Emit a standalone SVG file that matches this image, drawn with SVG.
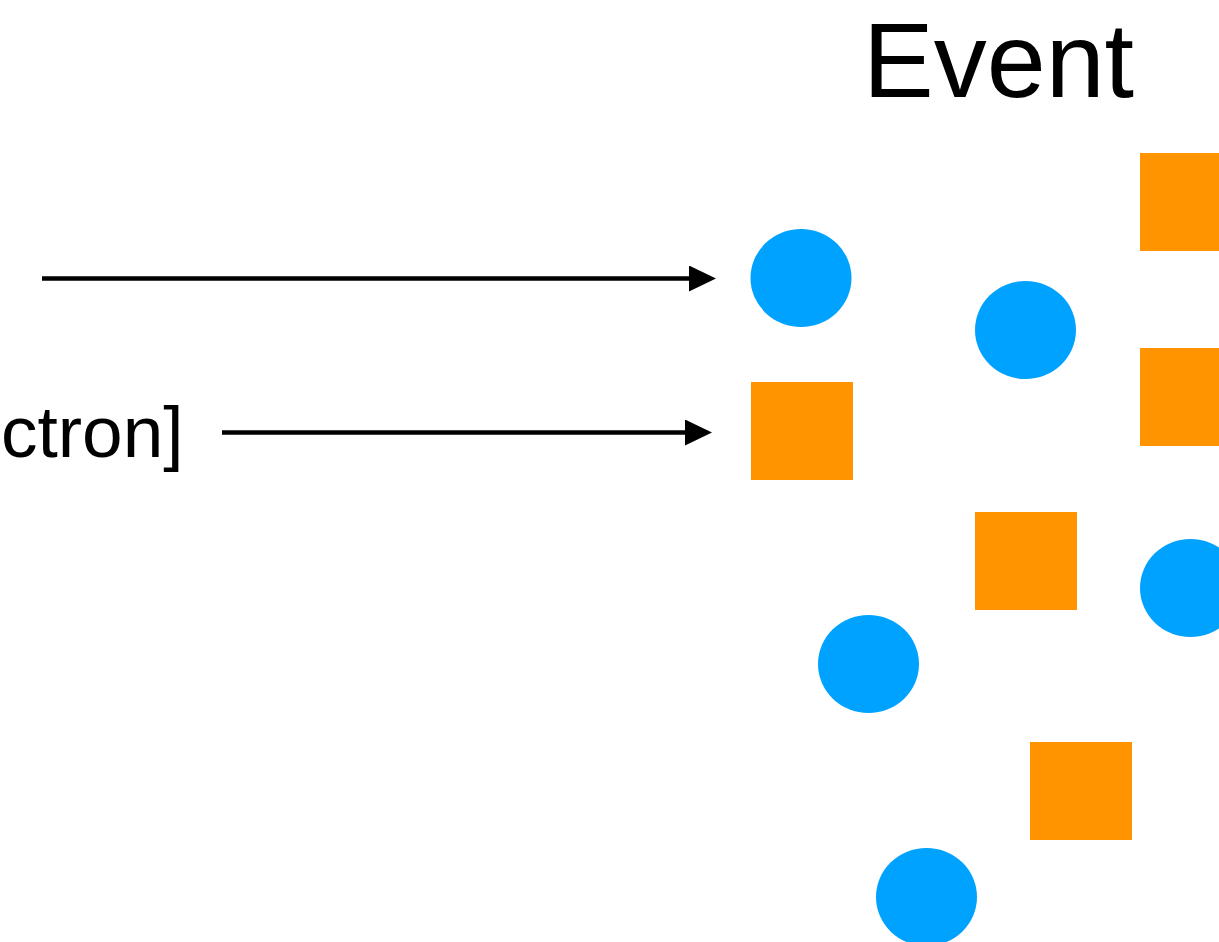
<svg xmlns="http://www.w3.org/2000/svg" width="1219" height="942" viewBox="0 0 1219 942">
  <style>
    .label { font-family: "Liberation Sans", Arial, Helvetica, sans-serif; fill: #000000; }
    .dot { fill: #00A2FF; }
    .box { fill: #FF9300; }
    .wire { stroke: #000000; stroke-width: 4.5; fill: none; }
  </style>
  <defs>
    <marker id="head" markerUnits="userSpaceOnUse" markerWidth="27" markerHeight="26" refX="1" refY="13" orient="auto">
      <path d="M0,0 L27,13 L0,26 Z" fill="#000000"/>
    </marker>
  </defs>
  <rect width="1219" height="942" fill="#ffffff"/>

  <text id="title" class="label" x="863" y="97" font-size="106">Event</text>
  <text id="particle-label" class="label" x="1" y="457" font-size="73">ctron]</text>

  <g id="connectors">
    <line class="wire" x1="42" y1="278.5" x2="690" y2="278.5" marker-end="url(#head)"/>
    <line class="wire" x1="222" y1="432.5" x2="686" y2="432.5" marker-end="url(#head)"/>
  </g>

  <g id="dot-1"><ellipse class="dot" cx="801" cy="278" rx="50.5" ry="49"/></g>
  <g id="dot-2"><ellipse class="dot" cx="1025.5" cy="330" rx="50.5" ry="49"/></g>
  <g id="dot-3"><ellipse class="dot" cx="868.5" cy="664" rx="50.5" ry="49"/></g>
  <g id="dot-4"><ellipse class="dot" cx="926.5" cy="897" rx="50.5" ry="49"/></g>
  <g id="dot-5"><ellipse class="dot" cx="1190.5" cy="588" rx="50.5" ry="49"/></g>

  <g id="box-1"><rect class="box" x="1140" y="153" width="102" height="98"/></g>
  <g id="box-2"><rect class="box" x="1140" y="348" width="102" height="98"/></g>
  <g id="box-3"><rect class="box" x="751" y="382" width="102" height="98"/></g>
  <g id="box-4"><rect class="box" x="975" y="512" width="102" height="98"/></g>
  <g id="box-5"><rect class="box" x="1030" y="742" width="102" height="98"/></g>
</svg>
